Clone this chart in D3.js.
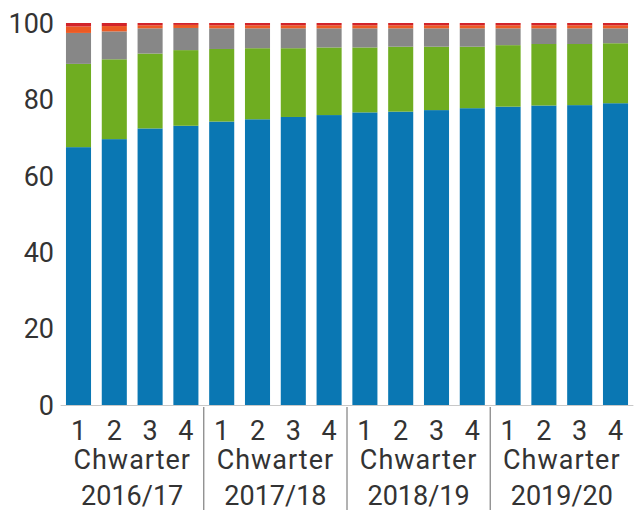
<!DOCTYPE html>
<html>
<head>
<meta charset="utf-8">
<script src="https://cdn.jsdelivr.net/npm/d3@7"></script>
<style>
  body { margin: 0; background: #fff; }
  text { font-family: Roboto, "Liberation Sans", sans-serif; fill: #333; }
</style>
</head>
<body>
<script>
const width = 642
const height = 514

// data
const years = ["2016/17", "2017/18", "2018/19", "2019/20"];
const quarters = ["1", "2", "3", "4"];
const blue   = [67.5, 69.6, 72.4, 73.1, 74.2, 74.8, 75.4, 75.9, 76.6, 76.8, 77.2, 77.7, 78.1, 78.4, 78.5, 79.0];
const green  = [21.8, 20.9, 19.6, 19.8, 19.0, 18.6, 18.0, 17.7, 17.0, 17.0, 16.6, 16.1, 16.1, 16.1, 16.0, 15.7];
const grey   = [8.1, 7.3, 6.6, 5.8, 5.4, 5.2, 5.2, 5.0, 5.0, 4.8, 4.8, 4.8, 4.4, 4.1, 4.1, 3.9];
const orange = [1.7, 1.4, 0.8, 0.8, 0.8, 0.8, 0.8, 0.8, 0.8, 0.8, 0.8, 0.8, 0.8, 0.8, 0.8, 0.8];
const red    = [0.9, 0.8, 0.6, 0.5, 0.6, 0.6, 0.6, 0.6, 0.6, 0.6, 0.6, 0.6, 0.6, 0.6, 0.6, 0.6];
const yTicks = [0, 20, 40, 60, 80, 100];

const seriesKeys = ["blue", "green", "grey", "orange", "red"];
const colors = ["#0a77b3", "#6fad21", "#878787", "#ec5a24", "#d2232a"];

const rows = [];
years.forEach((yr, i) => {
    quarters.forEach((q, j) => {
        const k = i * 4 + j;
        rows.push({id: yr + "-" + q, year: yr, q: q,
            blue: blue[k], green: green[k], grey: grey[k], orange: orange[k], red: red[k]});
    });
});

const svg = d3.select("body").append("svg")
    .attr("width", width)
    .attr("height", height);

const x = d3.scaleBand()
    .domain(rows.map(d => d.id))
    .range([60.6, 633.4])
    .paddingInner(0.3)
    .paddingOuter(0.15);

const y = d3.scaleLinear()
    .domain([0, 100])
    .range([405, 23]);

const stack = d3.stack().keys(seriesKeys);
const layers = stack(rows);

svg.selectAll("g.layer")
    .data(layers)
    .enter()
    .append("g")
    .attr("class", "layer")
    .attr("fill", (d, i) => colors[i])
    .selectAll("rect")
    .data(d => d)
    .enter()
    .append("rect")
    .attr("x", d => x(d.data.id))
    .attr("width", x.bandwidth())
    .attr("y", d => y(Math.min(100, d[1])))
    .attr("height", d => y(d[0]) - y(Math.min(100, d[1])));

// y labels
svg.selectAll("text.ylab")
    .data(yTicks)
    .enter()
    .append("text")
    .attr("class", "ylab")
    .attr("x", 54)
    .attr("y", d => y(d))
    .attr("dy", "0.36em")
    .attr("text-anchor", "end")
    .style("font-size", "27px")
    .text(d => d);

// baseline
svg.append("line")
    .attr("x1", x.range()[0]).attr("x2", x.range()[1])
    .attr("y1", y(0) + 0.5).attr("y2", y(0) + 0.5)
    .attr("stroke", "#c8c8c8");

// quarter numbers
svg.selectAll("text.q")
    .data(rows)
    .enter()
    .append("text")
    .attr("class", "q")
    .attr("x", d => x(d.id) + x.bandwidth() / 2)
    .attr("y", 440)
    .attr("text-anchor", "middle")
    .style("font-size", "27px")
    .text(d => d.q);

// group labels
const groupCenter = yr => {
    const a = x(yr + "-1");
    const b = x(yr + "-4") + x.bandwidth();
    return (a + b) / 2;
};

svg.selectAll("text.chw")
    .data(years)
    .enter()
    .append("text")
    .attr("x", d => groupCenter(d))
    .attr("y", 469)
    .attr("text-anchor", "middle")
    .style("font-size", "27px")
    .style("letter-spacing", "1px")
    .text("Chwarter");

svg.selectAll("text.yr")
    .data(years)
    .enter()
    .append("text")
    .attr("x", d => groupCenter(d))
    .attr("y", 505)
    .attr("text-anchor", "middle")
    .style("font-size", "27px")
    .text(d => d);

// separators between years
svg.selectAll("line.sep")
    .data(years.slice(1))
    .enter()
    .append("line")
    .attr("x1", d => x(d + "-1") - x.step() * x.paddingInner() / 2)
    .attr("x2", d => x(d + "-1") - x.step() * x.paddingInner() / 2)
    .attr("y1", 407)
    .attr("y2", 510)
    .attr("stroke", "#666")
    .attr("stroke-width", 1);
</script>
</body>
</html>
